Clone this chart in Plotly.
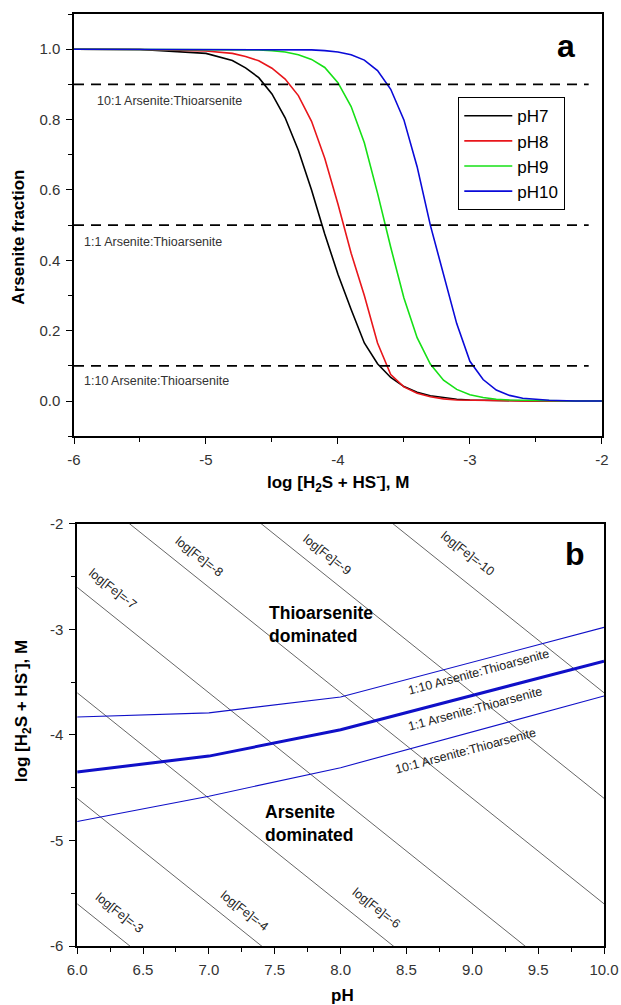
import plotly.graph_objects as go
from plotly.subplots import make_subplots

# ── Panel a: arsenite fraction vs log sulfide ────────────────────────────────
log_sulfide = [-6.0, -5.5, -5.0, -4.8, -4.7, -4.6, -4.5, -4.4, -4.3, -4.2,
               -4.1, -4.0, -3.9, -3.8, -3.7, -3.6, -3.5, -3.4, -3.3, -3.2,
               -3.1, -3.0, -2.9, -2.8, -2.7, -2.6, -2.5, -2.4, -2.2, -2.0]
frac_ph7 = [1.000, 0.999, 0.988, 0.968, 0.947, 0.919, 0.873, 0.805, 0.713, 0.600,
            0.475, 0.360, 0.260, 0.165, 0.106, 0.067, 0.041, 0.025, 0.015, 0.009,
            0.005, 0.003, 0.002, 0.001, 0.000, 0.000, 0.000, 0.000, 0.000, 0.000]
frac_ph8 = [1.000, 0.999, 0.995, 0.988, 0.979, 0.967, 0.946, 0.915, 0.868, 0.795,
            0.690, 0.560, 0.420, 0.300, 0.165, 0.075, 0.040, 0.022, 0.012, 0.006,
            0.003, 0.002, 0.001, 0.000, 0.000, 0.000, 0.000, 0.000, 0.000, 0.000]
frac_ph9 = [1.000, 1.000, 1.000, 0.999, 0.999, 0.998, 0.996, 0.992, 0.984, 0.971,
            0.948, 0.905, 0.837, 0.734, 0.591, 0.437, 0.293, 0.180, 0.105, 0.059,
            0.033, 0.018, 0.010, 0.005, 0.003, 0.002, 0.001, 0.000, 0.000, 0.000]
frac_ph10 = [1.000, 1.000, 1.000, 1.000, 1.000, 1.000, 1.000, 0.999, 0.999, 0.998,
             0.996, 0.992, 0.984, 0.969, 0.939, 0.886, 0.799, 0.666, 0.500, 0.360,
             0.220, 0.113, 0.061, 0.031, 0.016, 0.008, 0.004, 0.002, 0.000, 0.000]
series_names = ["pH7", "pH8", "pH9", "pH10"]
series_colors = ["#000000", "#e8161b", "#16e016", "#0a0ad8"]

ratio_levels = [0.9, 0.5, 0.1]
ratio_labels = ["10:1 Arsenite:Thioarsenite", "1:1 Arsenite:Thioarsenite",
                "1:10 Arsenite:Thioarsenite"]
ratio_label_x = [-5.84, -5.94, -5.94]
ratio_label_y = [0.852, 0.453, 0.057]
dash_x = [-6.0, -2.1]

# ── Panel b: pH vs log sulfide ────────────────────────────────────────────────
ph_pts = [6.0, 7.0, 8.0, 10.0]
boundary_1_10 = [-3.83, -3.79, -3.64, -2.98]
boundary_1_1 = [-4.35, -4.20, -3.95, -3.30]
boundary_10_1 = [-4.82, -4.58, -4.31, -3.63]
boundary_label_x = [9.05, 9.02, 8.95]
boundary_label_y = [-3.40, -3.75, -4.15]

fe_ph = [6.0, 10.0]
fe_lines = {  # log[Fe] label -> log sulfide at pH 6 and pH 10
    "-3": [-5.6, -9.6],
    "-4": [-4.6, -8.6],
    "-6": [-3.6, -7.6],
    "-7": [-2.6, -6.6],
    "-8": [-1.6, -5.6],
    "-9": [-0.6, -4.6],
    "-10": [0.4, -3.6],
}
fe_label_x = {"-3": 6.32, "-4": 7.27, "-6": 8.27, "-7": 6.27,
              "-8": 6.93, "-9": 7.90, "-10": 8.97}
fe_label_y = {"-3": -5.69, "-4": -5.67, "-6": -5.64, "-7": -2.62,
              "-8": -2.31, "-9": -2.29, "-10": -2.28}

# tick labels
a_xticks = [-6, -5, -4, -3, -2]
a_xtext = ["-6", "-5", "-4", "-3", "-2"]
a_yticks = [0.0, 0.2, 0.4, 0.6, 0.8, 1.0]
a_ytext = ["0.0", "0.2", "0.4", "0.6", "0.8", "1.0"]
b_xticks = [6.0, 6.5, 7.0, 7.5, 8.0, 8.5, 9.0, 9.5, 10.0]
b_xtext = ["6.0", "6.5", "7.0", "7.5", "8.0", "8.5", "9.0", "9.5", "10.0"]
b_yticks = [-6, -5, -4, -3, -2]
b_ytext = ["-6", "-5", "-4", "-3", "-2"]

FONT = "Liberation Sans, Arial, sans-serif"
SULFIDE_TITLE = "<b>log [H<sub>2</sub>S + HS<sup>-</sup>], M</b>"

fig = make_subplots(rows=2, cols=1)

# panel a curves
for name, color, vals in zip(series_names, series_colors,
                             [frac_ph7, frac_ph8, frac_ph9, frac_ph10]):
    fig.add_trace(go.Scatter(x=log_sulfide, y=vals, mode="lines", name=name,
                             line=dict(color=color, width=1.6)), row=1, col=1)

for lvl in ratio_levels:
    fig.add_trace(go.Scatter(x=dash_x, y=[lvl, lvl], mode="lines", showlegend=False,
                             line=dict(color="black", width=1.8, dash="10px,7px"),
                             hoverinfo="skip"), row=1, col=1)

for txt, lx, ly in zip(ratio_labels, ratio_label_x, ratio_label_y):
    fig.add_annotation(x=lx, y=ly, xref="x", yref="y", text=txt, showarrow=False,
                       xanchor="left", yanchor="middle",
                       font=dict(family=FONT, size=12.5, color="#333"))

fig.add_annotation(x=-2.27, y=1.01, xref="x", yref="y", text="<b>a</b>",
                   showarrow=False, xanchor="center", yanchor="middle",
                   font=dict(family=FONT, size=32, color="black"))

# panel b: iron lines
for key, ys in fe_lines.items():
    fig.add_trace(go.Scatter(x=fe_ph, y=ys, mode="lines", showlegend=False,
                             line=dict(color="#555555", width=0.9),
                             hoverinfo="skip"), row=2, col=1)
    fig.add_annotation(x=fe_label_x[key], y=fe_label_y[key], xref="x2", yref="y2",
                       text=f"log[Fe]={key}", showarrow=False, textangle=38,
                       xanchor="center", yanchor="middle",
                       font=dict(family=FONT, size=12.5, color="#222"))

# panel b: boundaries
for ys, w in [(boundary_1_10, 1.1), (boundary_1_1, 3.0), (boundary_10_1, 1.1)]:
    fig.add_trace(go.Scatter(x=ph_pts, y=ys, mode="lines", showlegend=False,
                             line=dict(color="#1010c8", width=w),
                             hoverinfo="skip"), row=2, col=1)

for txt, lx, ly in zip(reversed(ratio_labels), boundary_label_x, boundary_label_y):
    fig.add_annotation(x=lx, y=ly, xref="x2", yref="y2", text=txt, showarrow=False,
                       textangle=-15, xanchor="center", yanchor="middle",
                       font=dict(family=FONT, size=12.5, color="#222"))

fig.add_annotation(x=7.44, y=-2.95, xref="x2", yref="y2",
                   text="<b>Thioarsenite<br>dominated</b>", showarrow=False,
                   xanchor="left", yanchor="middle", align="left",
                   font=dict(family=FONT, size=17.5, color="black"))
fig.add_annotation(x=7.41, y=-4.84, xref="x2", yref="y2",
                   text="<b>Arsenite<br>dominated</b>", showarrow=False,
                   xanchor="left", yanchor="middle", align="left",
                   font=dict(family=FONT, size=17.5, color="black"))
fig.add_annotation(x=9.78, y=-2.28, xref="x2", yref="y2", text="<b>b</b>",
                   showarrow=False, xanchor="center", yanchor="middle",
                   font=dict(family=FONT, size=32, color="black"))

# axis titles
title_font = dict(family=FONT, size=17, color="black")
fig.add_annotation(x=0.498, y=0.497, xref="paper", yref="paper", text=SULFIDE_TITLE,
                   showarrow=False, xanchor="center", yanchor="middle", font=title_font)
fig.add_annotation(x=0.506, y=-0.0526, xref="paper", yref="paper", text="<b>pH</b>",
                   showarrow=False, xanchor="center", yanchor="middle", font=title_font)
fig.add_annotation(x=-0.104, y=0.761, xref="paper", yref="paper",
                   text="<b>Arsenite fraction</b>", textangle=-90,
                   xanchor="center", yanchor="middle",
                   showarrow=False, font=title_font)
fig.add_annotation(x=-0.100, y=0.252, xref="paper", yref="paper", text=SULFIDE_TITLE,
                   textangle=-90, xanchor="center", yanchor="middle",
                   showarrow=False, font=title_font)

axis_style = dict(showline=True, linecolor="black", linewidth=1.5, mirror=True,
                  ticks="outside", ticklen=6, tickwidth=1.2, tickcolor="black",
                  showgrid=False, zeroline=False, ticklabelstandoff=3,
                  automargin=False,
                  tickfont=dict(family=FONT, size=15, color="#333"))

fig.update_xaxes(axis_style)
fig.update_yaxes(axis_style)

fig.update_layout(
    xaxis=dict(domain=[0, 0.996], range=[-6, -2], tickvals=a_xticks, ticktext=a_xtext,
               minor=dict(ticks="outside", ticklen=4, tick0=-6, dtick=0.5,
                          tickcolor="black")),
    yaxis=dict(domain=[0.547, 1], range=[-0.1, 1.1], tickvals=a_yticks, ticktext=a_ytext,
               minor=dict(ticks="outside", ticklen=4, tick0=0, dtick=0.1,
                          tickcolor="black")),
    xaxis2=dict(domain=[0.006, 1], range=[6, 10], tickvals=b_xticks, ticktext=b_xtext,
                minor=dict(ticks="outside", ticklen=4, tick0=6, dtick=0.25,
                           tickcolor="black")),
    yaxis2=dict(domain=[0, 0.4528], range=[-6, -2], tickvals=b_yticks, ticktext=b_ytext,
                minor=dict(ticks="outside", ticklen=4, tick0=-6, dtick=0.5,
                           tickcolor="black")),
    width=621, height=1005,
    margin=dict(l=74, r=17, t=14, b=59, autoexpand=False),
    paper_bgcolor="white", plot_bgcolor="white",
    font=dict(family=FONT, color="black"),
    showlegend=True,
    legend=dict(x=0.7245, y=0.911, xanchor="left", yanchor="top",
                bordercolor="black", borderwidth=1.3, bgcolor="white",
                font=dict(family=FONT, size=17, color="black"),
                itemwidth=48, tracegroupgap=0),
)

# the page's default body margin would shift the figure out of the window
fig.write_html("out.html", config={"displayModeBar": False},
               post_script="document.body.style.margin = '0px';")
